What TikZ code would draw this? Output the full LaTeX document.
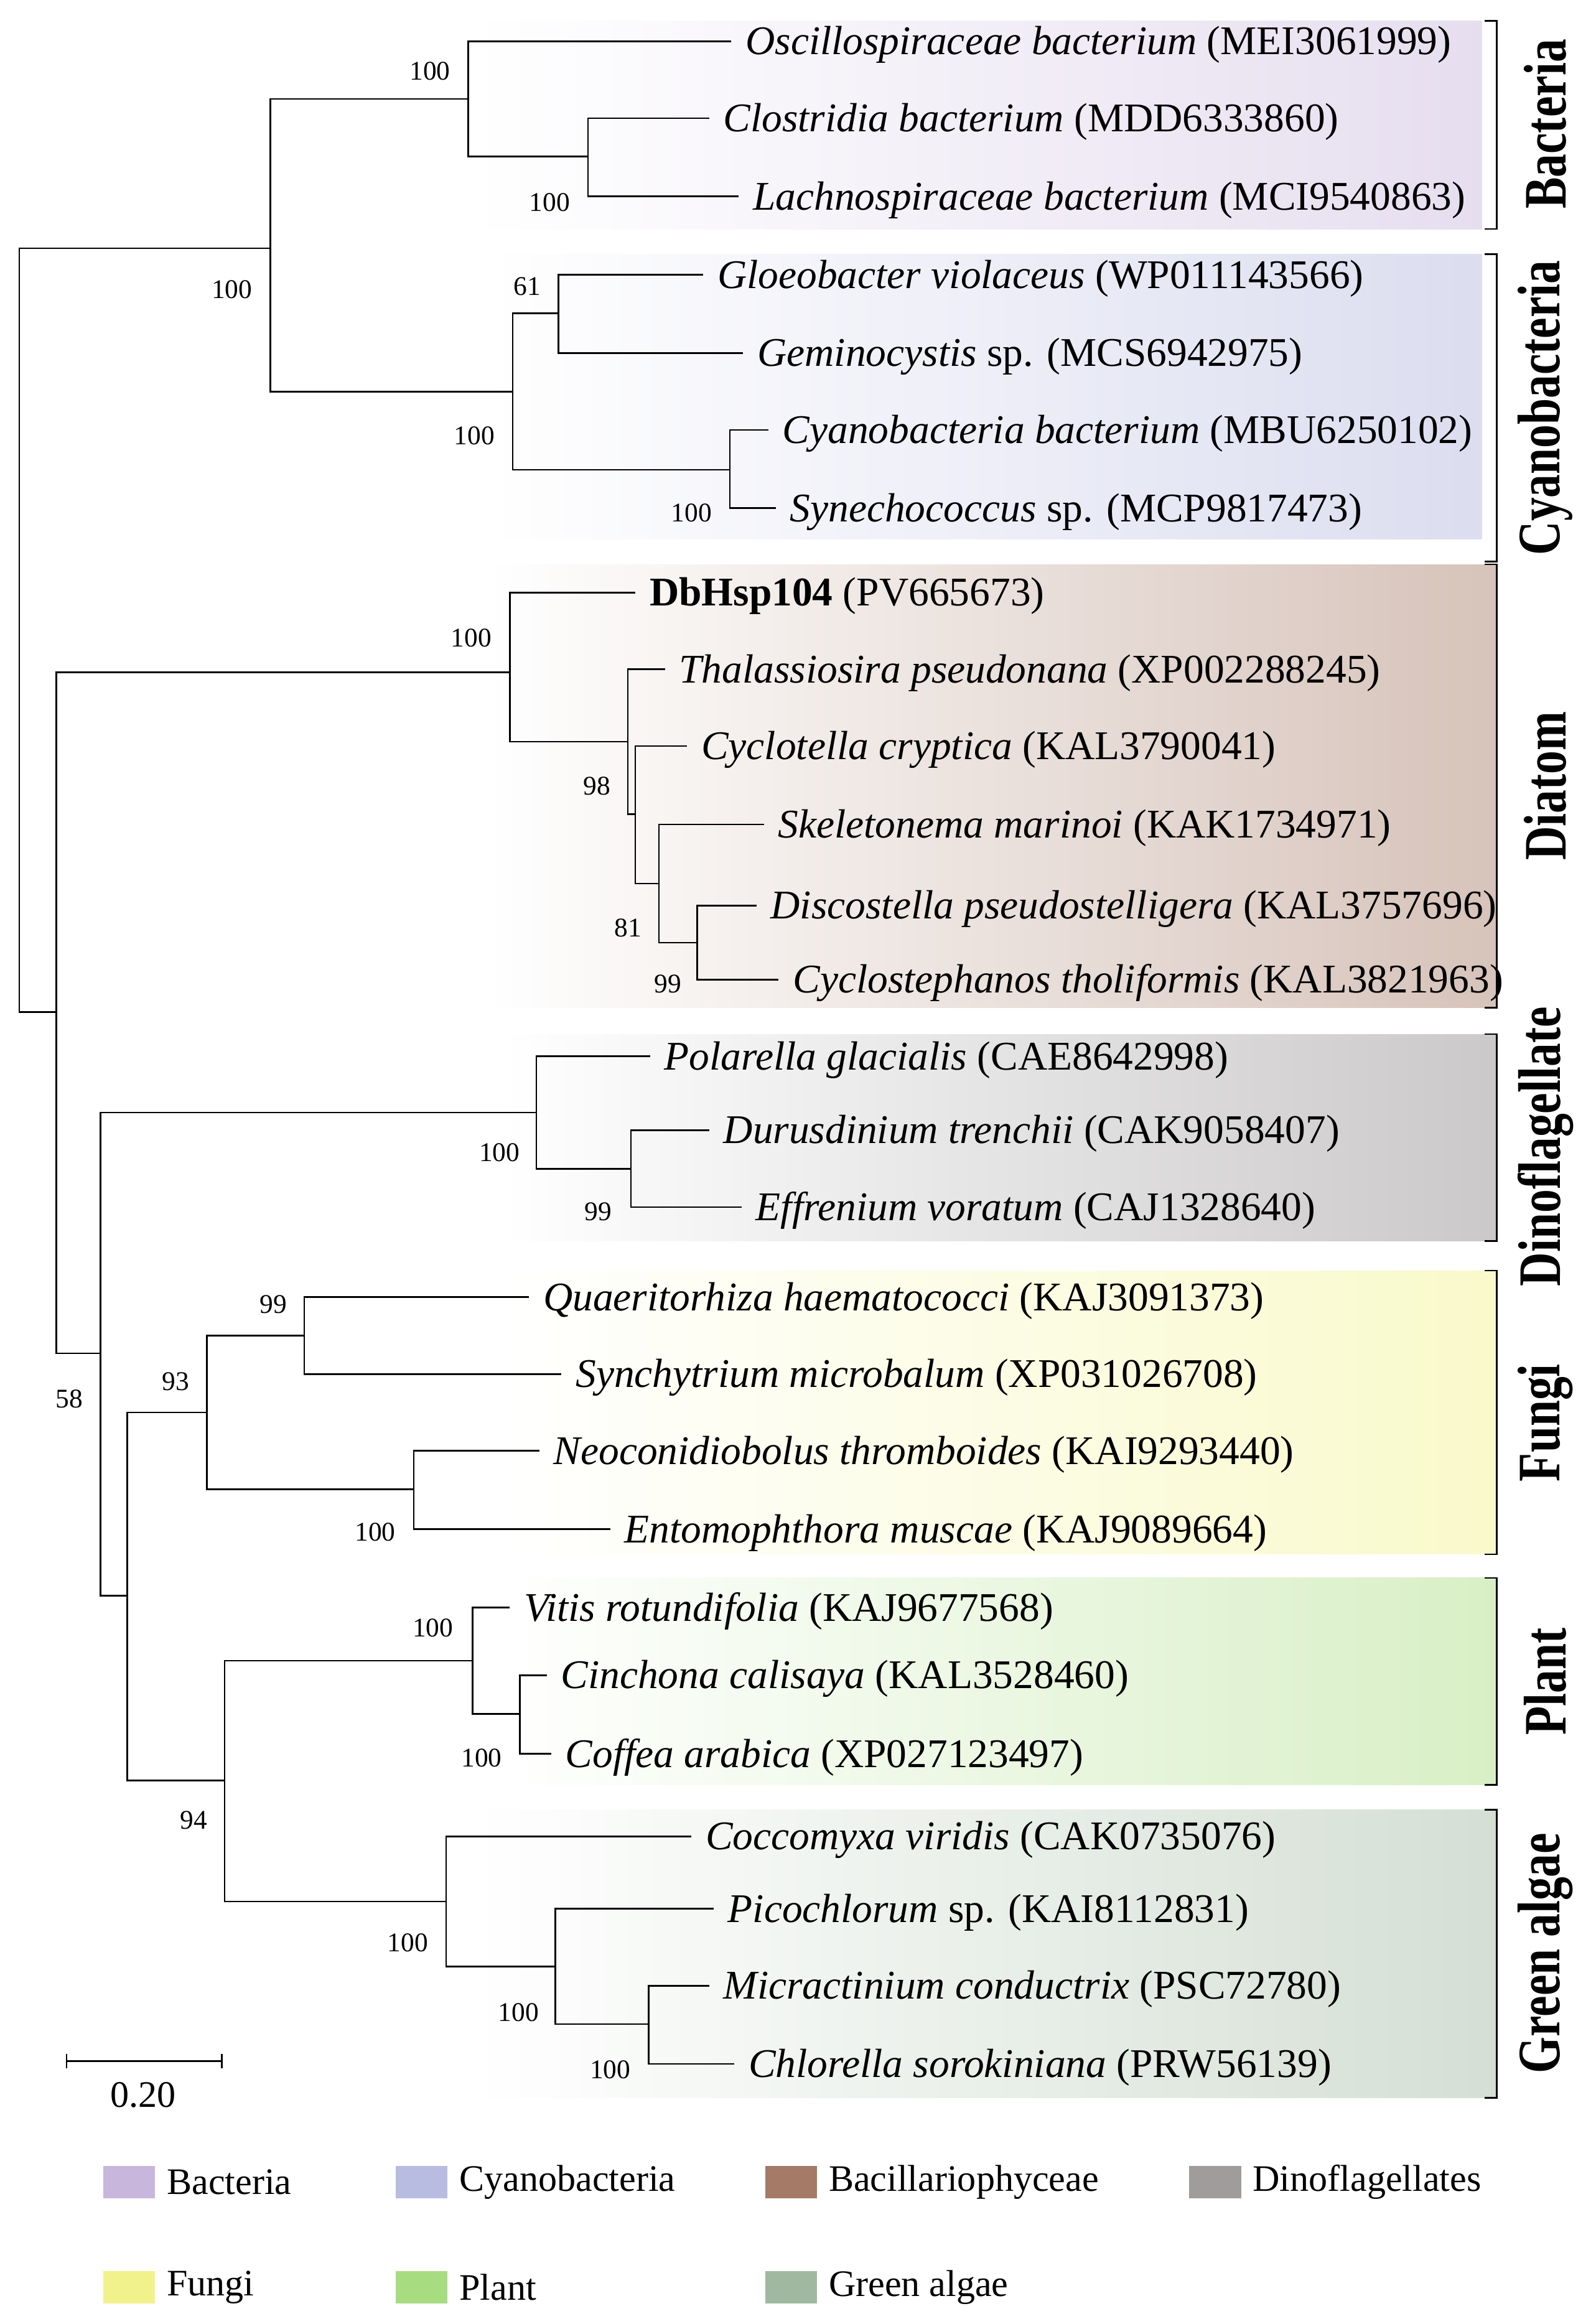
\documentclass[tikz,border=0pt]{standalone}
\usepackage{fontspec}
\setmainfont{Liberation Serif}
\usetikzlibrary{positioning,calc}
\definecolor{cBac}{HTML}{C8B6DC}
\definecolor{cCya}{HTML}{B8BCE0}
\definecolor{cDia}{HTML}{A57A66}
\definecolor{cDin}{HTML}{A09C9C}
\definecolor{cFun}{HTML}{F2F28C}
\definecolor{cPla}{HTML}{A8DC80}
\definecolor{cGre}{HTML}{A0B8A0}
\begin{document}
\begin{tikzpicture}[
    x=0.025cm, y=-0.025cm,
    leaf/.style={anchor=west, inner sep=1pt, xshift=0.2cm, yshift=-0.06cm, font=\fontsize{19.6}{22}\selectfont},
    bs/.style={font=\fontsize{13}{15}\selectfont, inner sep=0pt},
    clade/.style={rotate=90, xscale=0.78, font=\fontsize{29}{32}\selectfont\bfseries, inner sep=0pt},
    branch/.style={draw=black, line width=0.8pt},
    band/.style={draw=none},
    legtext/.style={anchor=west, font=\fontsize{18}{21}\selectfont}
]
    \useasboundingbox (0,0) rectangle (1080,1573);

    % Clade bands
    \shade[band, left color=white, right color=cBac!45] (320,14) rectangle (1003,155);
    \shade[band, left color=white, right color=cCya!50] (330,172) rectangle (1003,365);
    \shade[band, left color=white, right color=cDia!45] (330,382) rectangle (1013,682);
    \shade[band, left color=white, right color=cDin!55] (340,700) rectangle (1013,840);
    \shade[band, left color=white, right color=cFun!45] (340,860) rectangle (1013,1052);
    \shade[band, left color=white, right color=cPla!45] (340,1068) rectangle (1013,1208);
    \shade[band, left color=white, right color=cGre!45] (320,1225) rectangle (1013,1420);

    % Leaves
    \node[leaf] (l1) at (495,28) {\textit{Oscillospiraceae bacterium} (MEI3061999)};
    \node[leaf] (l2) at (480,80) {\textit{Clostridia bacterium} (MDD6333860)};
    \node[leaf] (l3) at (500,133) {\textit{Lachnospiraceae bacterium} (MCI9540863)};
    \node[leaf] (l4) at (476,186) {\textit{Gloeobacter violaceus} (WP011143566)};
    \node[leaf] (l5) at (503,239) {\textit{Geminocystis} sp. (MCS6942975)};
    \node[leaf] (l6) at (520,291) {\textit{Cyanobacteria bacterium} (MBU6250102)};
    \node[leaf] (l7) at (525,344) {\textit{Synechococcus} sp. (MCP9817473)};
    \node[leaf] (l8) at (430,401) {\textbf{DbHsp104} (PV665673)};
    \node[leaf] (l9) at (450,453) {\textit{Thalassiosira pseudonana} (XP002288245)};
    \node[leaf] (l10) at (465,505) {\textit{Cyclotella cryptica} (KAL3790041)};
    \node[leaf] (l11) at (517,558) {\textit{Skeletonema marinoi} (KAK1734971)};
    \node[leaf] (l12) at (512,613) {\textit{Discostella pseudostelligera} (KAL3757696)};
    \node[leaf] (l13) at (527,663) {\textit{Cyclostephanos tholiformis} (KAL3821963)};
    \node[leaf] (l14) at (440,715) {\textit{Polarella glacialis} (CAE8642998)};
    \node[leaf] (l15) at (480,765) {\textit{Durusdinium trenchii} (CAK9058407)};
    \node[leaf] (l16) at (502,817) {\textit{Effrenium voratum} (CAJ1328640)};
    \node[leaf] (l17) at (358,878) {\textit{Quaeritorhiza haematococci} (KAJ3091373)};
    \node[leaf] (l18) at (380,930) {\textit{Synchytrium microbalum} (XP031026708)};
    \node[leaf] (l19) at (365,982) {\textit{Neoconidiobolus thromboides} (KAI9293440)};
    \node[leaf] (l20) at (413,1035) {\textit{Entomophthora muscae} (KAJ9089664)};
    \node[leaf] (l21) at (345,1088) {\textit{Vitis rotundifolia} (KAJ9677568)};
    \node[leaf] (l22) at (370,1134) {\textit{Cinchona calisaya} (KAL3528460)};
    \node[leaf] (l23) at (373,1187) {\textit{Coffea arabica} (XP027123497)};
    \node[leaf] (l24) at (468,1243) {\textit{Coccomyxa viridis} (CAK0735076)};
    \node[leaf] (l25) at (483,1292) {\textit{Picochlorum} sp. (KAI8112831)};
    \node[leaf] (l26) at (480,1344) {\textit{Micractinium conductrix} (PSC72780)};
    \node[leaf] (l27) at (497,1397) {\textit{Chlorella sorokiniana} (PRW56139)};

    % Tips
    \foreach \i/\x/\y in {1/495/28, 2/480/80, 3/500/133, 4/476/186, 5/503/239,
        6/520/291, 7/525/344, 8/430/401, 9/450/453, 10/465/505, 11/517/558,
        12/512/613, 13/527/663, 14/440/715, 15/480/765, 16/502/817, 17/358/878,
        18/380/930, 19/365/982, 20/413/1035, 21/345/1088, 22/370/1134,
        23/373/1187, 24/468/1243, 25/483/1292, 26/480/1344, 27/497/1397}
        \coordinate (t\i) at (\x,\y);

    % Internal nodes
    \coordinate (n23) at (398,106);
    \coordinate (nBac) at (317,67);
    \coordinate (n45) at (378,212);
    \coordinate (n67) at (494,318);
    \coordinate (nCya) at (347,265);
    \coordinate (nBC) at (183,168);
    \coordinate (n1213) at (472,638);
    \coordinate (nSk) at (446,598);
    \coordinate (nCy) at (430,551);
    \coordinate (nTh) at (425,502);
    \coordinate (nDia) at (345,455);
    \coordinate (n1516) at (427,791);
    \coordinate (nDin) at (363,753);
    \coordinate (n1718) at (206,904);
    \coordinate (n1920) at (280,1008);
    \coordinate (nFun) at (140,956);
    \coordinate (n2223) at (352,1160);
    \coordinate (nPla) at (320,1124);
    \coordinate (n2627) at (439,1370);
    \coordinate (n25) at (376,1331);
    \coordinate (nGre) at (302,1287);
    \coordinate (nPG) at (152,1205);
    \coordinate (nFPG) at (86,1080);
    \coordinate (nDFPG) at (68,916);
    \coordinate (nRest) at (38,685);
    \coordinate (root) at (13,426);

    % Branches
    \foreach \p/\c in {n23/t2, n23/t3, nBac/t1, nBac/n23,
        n45/t4, n45/t5, n67/t6, n67/t7, nCya/n45, nCya/n67,
        nBC/nBac, nBC/nCya,
        n1213/t12, n1213/t13, nSk/t11, nSk/n1213,
        nCy/t10, nCy/nSk, nTh/t9, nTh/nCy, nDia/t8, nDia/nTh,
        n1516/t15, n1516/t16, nDin/t14, nDin/n1516,
        n1718/t17, n1718/t18, n1920/t19, n1920/t20,
        nFun/n1718, nFun/n1920,
        n2223/t22, n2223/t23, nPla/t21, nPla/n2223,
        n2627/t26, n2627/t27, n25/t25, n25/n2627,
        nGre/t24, nGre/n25, nPG/nPla, nPG/nGre,
        nFPG/nFun, nFPG/nPG, nDFPG/nDin, nDFPG/nFPG,
        nRest/nDia, nRest/nDFPG, root/nBC, root/nRest}
        \draw[branch] (\p) |- (\c);

    % Bootstrap values
    \node[bs] (b1) at (291,48) {100};
    \node[bs] (b2) at (372,137) {100};
    \node[bs] (b3) at (157,196) {100};
    \node[bs] (b4) at (357,194) {61};
    \node[bs] (b5) at (321,295) {100};
    \node[bs] (b6) at (468,347) {100};
    \node[bs] (b7) at (319,432) {100};
    \node[bs] (b8) at (404,532) {98};
    \node[bs] (b9) at (425,628) {81};
    \node[bs] (b10) at (452,666) {99};
    \node[bs] (b11) at (338,780) {100};
    \node[bs] (b12) at (405,820) {99};
    \node[bs] (b13) at (185,883) {99};
    \node[bs] (b14) at (119,935) {93};
    \node[bs] (b15) at (254,1037) {100};
    \node[bs] (b16) at (47,947) {58};
    \node[bs] (b17) at (293,1102) {100};
    \node[bs] (b18) at (326,1190) {100};
    \node[bs] (b19) at (131,1232) {94};
    \node[bs] (b20) at (276,1315) {100};
    \node[bs] (b21) at (351,1362) {100};
    \node[bs] (b22) at (413,1401) {100};

    % Clade brackets
    \foreach \ya/\yb/\nm/\yt in {14/155/Bacteria/84, 172/380/Cyanobacteria/276,
        382/682/Diatom/532, 700/840/Dinoflagellate/776, 860/1052/Fungi/963,
        1068/1208/Plant/1138, 1225/1420/Green algae/1322}{
        \draw[branch] (1005,\ya) -- (1013,\ya) -- (1013,\yb) -- (1005,\yb);
        \node[clade] at (1046,\yt) {\nm};
    }

    % Scale bar
    \coordinate (sa) at (45,1395);
    \coordinate (sb) at (150,1395);
    \draw[branch] (sa) -- (sb);
    \draw[branch] ($(sa)+(0,-5)$) -- ($(sa)+(0,5)$);
    \draw[branch] ($(sb)+(0,-5)$) -- ($(sb)+(0,5)$);
    \node[legtext, anchor=center] (scale) at (97,1418) {0.20};

    % Legend
    \foreach \x/\y/\c/\t in {70/1477/cBac/Bacteria, 268/1477/cCya/Cyanobacteria,
        518/1477/cDia/Bacillariophyceae, 805/1477/cDin/Dinoflagellates,
        70/1548/cFun/Fungi, 268/1548/cPla/Plant, 518/1548/cGre/Green algae}{
        \fill[\c] (\x,\y-11) rectangle ++(35,22);
        \node[legtext] at (\x+38,\y) {\t};
    }
\end{tikzpicture}
\end{document}
